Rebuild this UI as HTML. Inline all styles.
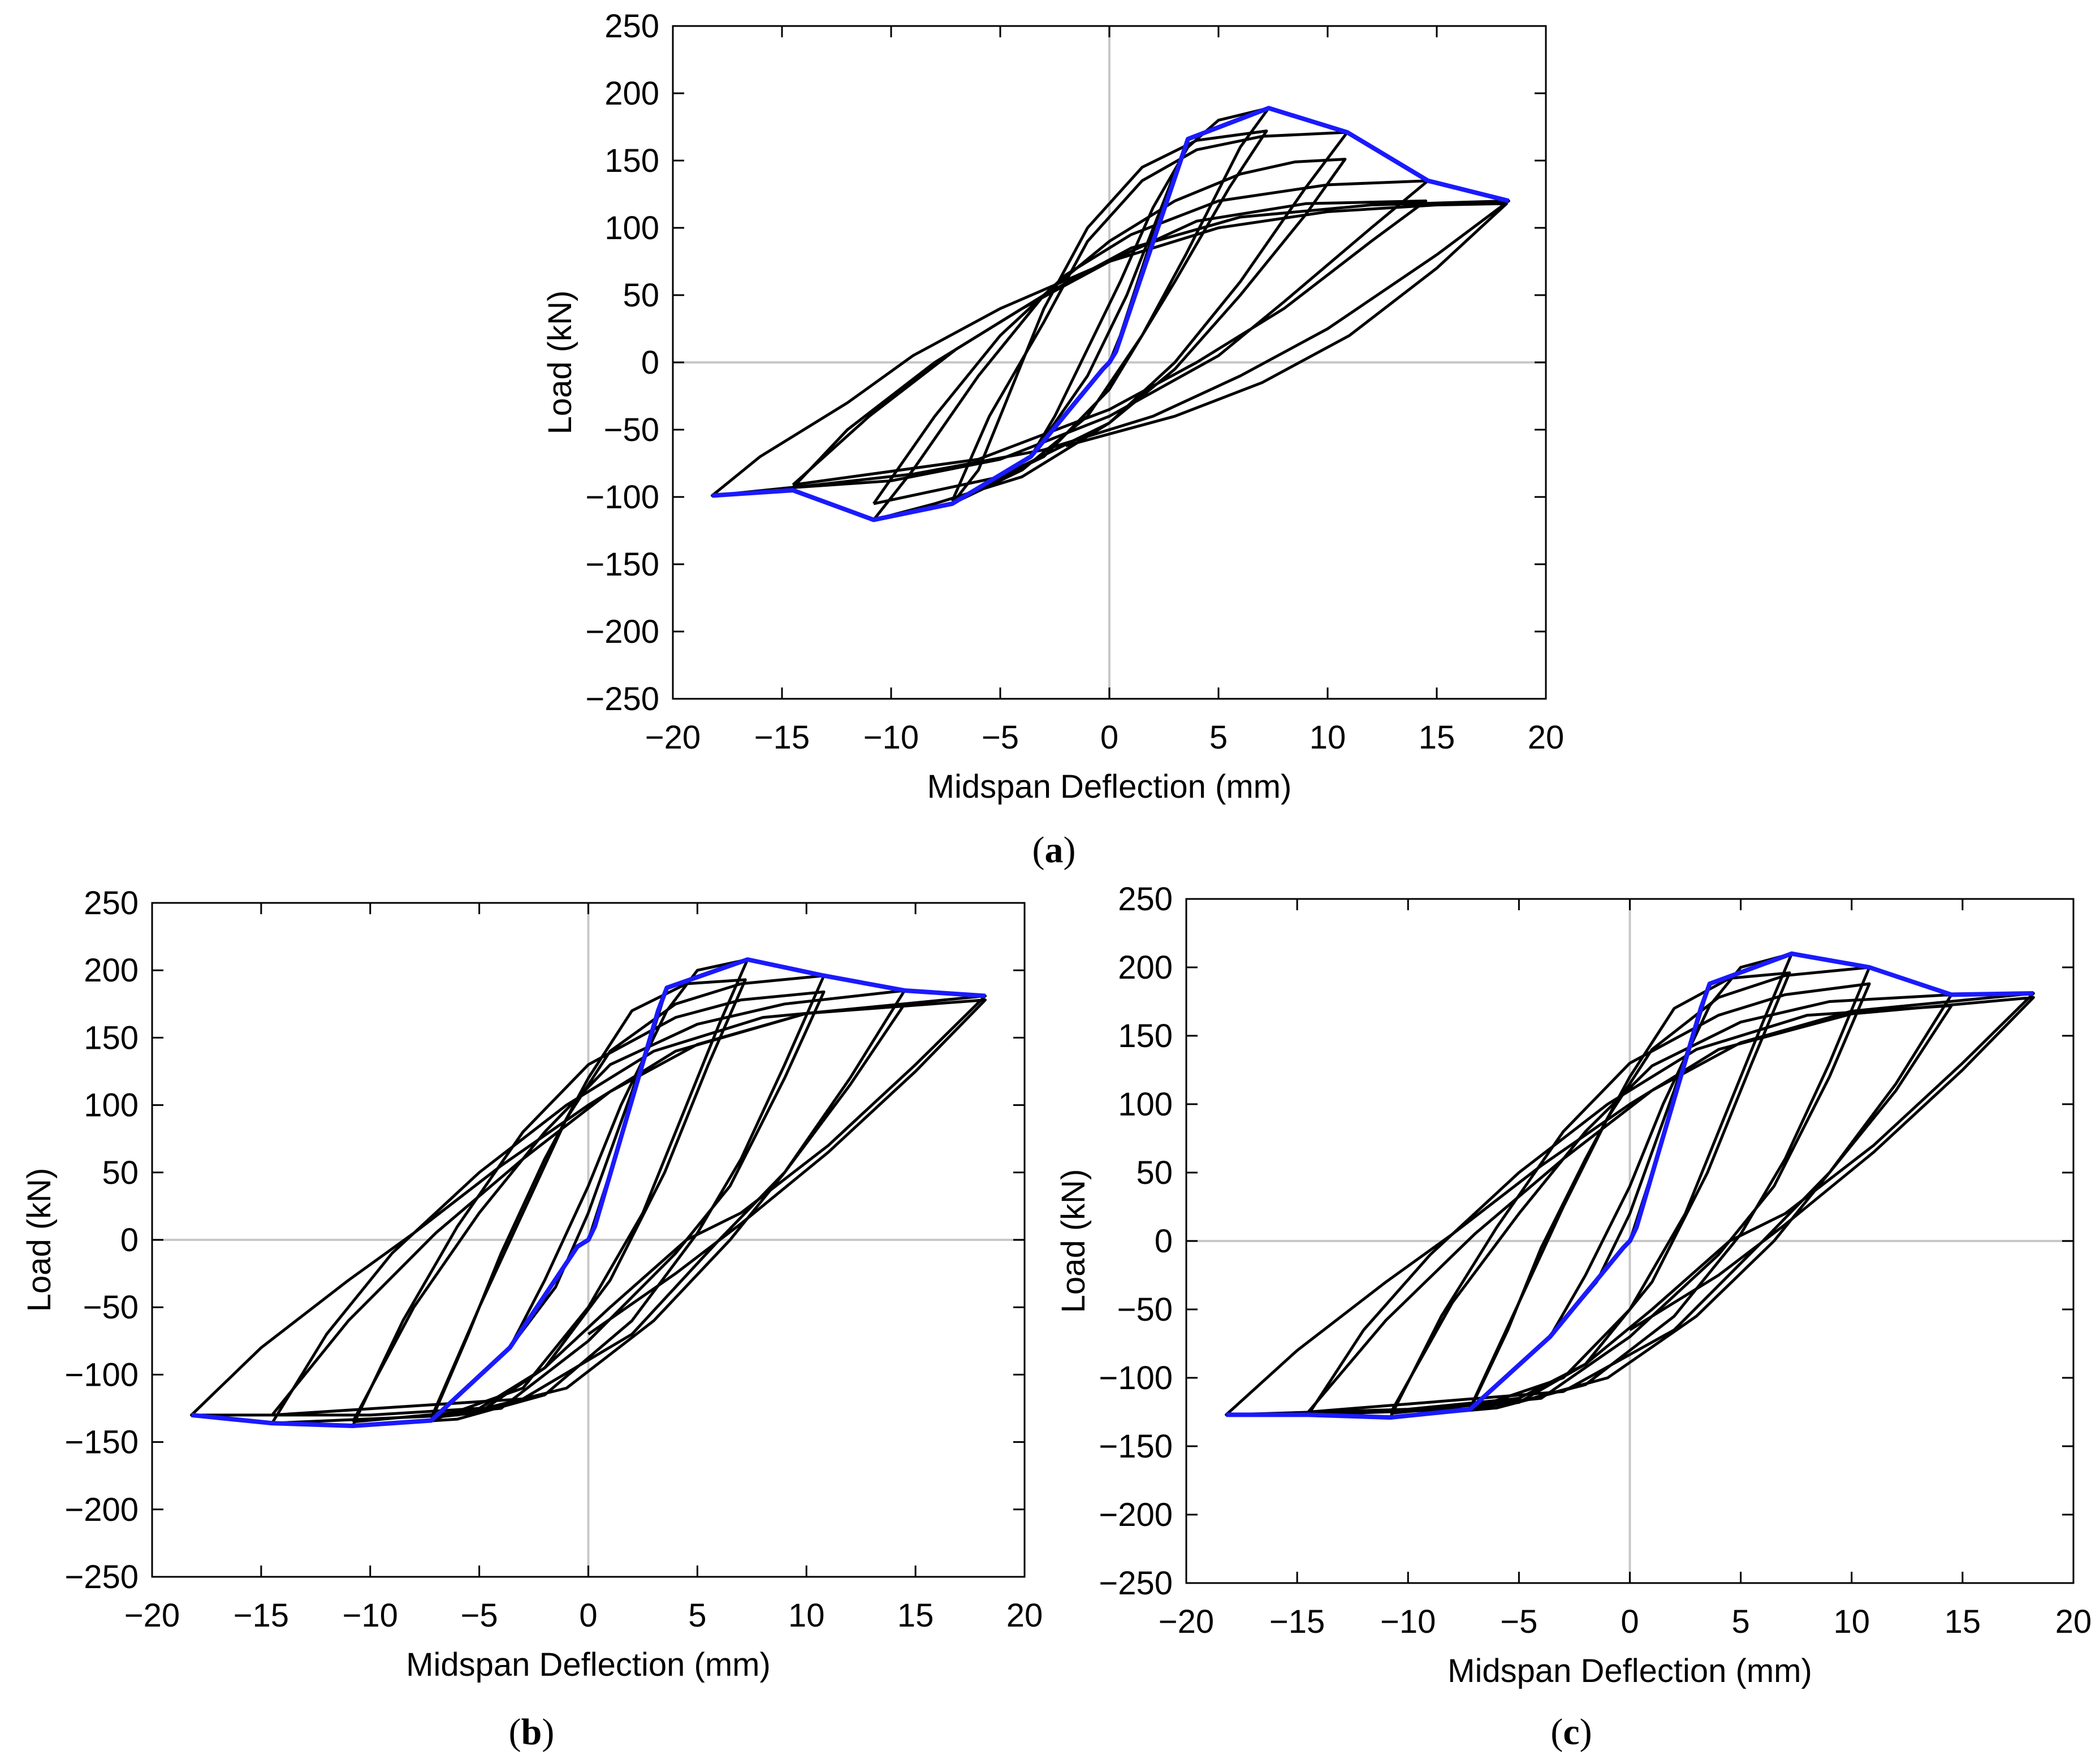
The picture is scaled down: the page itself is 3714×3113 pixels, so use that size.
<!DOCTYPE html>
<html><head><meta charset="utf-8"><style>
html,body{margin:0;padding:0;background:#fff;}
svg{display:block;}
text{font-family:"Liberation Sans",Arial,sans-serif;}
text.cap{font-family:"Liberation Serif","Times New Roman",serif;}
</style></head><body>
<svg id="fig" width="3714" height="3113" viewBox="0 0 3714 3113" xmlns="http://www.w3.org/2000/svg">
<text class="cap" x="1864" y="1525" font-size="66" text-anchor="middle">(<tspan font-weight="bold">a</tspan>)</text>
<text class="cap" x="940" y="3085" font-size="66" text-anchor="middle">(<tspan font-weight="bold">b</tspan>)</text>
<text class="cap" x="2779" y="3085" font-size="66" text-anchor="middle">(<tspan font-weight="bold">c</tspan>)</text>
</svg>
<script>
const xTicks=[-20,-15,-10,-5,0,5,10,15,20];
const yTicks=[-250,-200,-150,-100,-50,0,50,100,150,200,250];
const xTickLabels=["\u221220","\u221215","\u221210","\u22125","0","5","10","15","20"];
const yTickLabels=["\u2212250","\u2212200","\u2212150","\u2212100","\u221250","0","50","100","150","200","250"];

const loopsA=[
[[0,0],[0.5,20],[1.5,70],[2.5,120],[3.6,166],[2.5,120],[0.8,50],[-1,-10],[-2.5,-45],[-3.6,-70],[-2.5,-40],[-1,10],[0.5,60],[2,115],[3.6,160]],
[[3.6,160],[5,180],[7.3,189],[6,160],[3.5,80],[1.5,20],[-1,-40],[-4,-80],[-7.2,-105],[-6,-80],[-4.5,-20],[-3,40],[-1,100],[1.5,145],[4,165],[7.2,172],[5.5,130],[3,60],[0,-20],[-3,-70],[-7.2,-103]],
[[-7.2,-103],[-5.5,-40],[-3,30],[-1,90],[1.5,135],[4,158],[7,168],[10.9,171],[9,130],[6,60],[3,0],[0,-45],[-4,-85],[-8,-105],[-10.8,-117],[-9,-80],[-6,-10],[-3,50],[0,90],[3,120],[6,140],[8.5,149],[10.8,151],[9,110],[6,50],[3,-5],[0,-45],[-5,-85],[-10.8,-105]],
[[-10.8,-105],[-8,-40],[-5,20],[-2,65],[1,95],[5,120],[10,132],[14.6,135],[12,100],[8,45],[5,5],[0,-40],[-5,-72],[-10,-88],[-14.5,-93],[-12,-50],[-8,0],[-4,40],[0,75],[4,105],[9,118],[14.5,120],[12,90],[8,40],[4,0],[0,-35],[-6,-72],[-14.5,-91]],
[[-14.5,-91],[-11,-40],[-7,10],[-3,50],[1,85],[6,108],[12,117],[18.3,120],[15,80],[10,25],[6,-10],[2,-40],[-3,-65],[-9,-83],[-14,-92],[-18.2,-99],[-16,-70],[-12,-30],[-9,5],[-5,40],[0,75],[5,100],[10,112],[15,117],[18.2,118],[15,70],[11,20],[7,-15],[3,-40],[-2,-62]]
];
const envA=[[-18.2,-99],[-14.5,-95],[-10.8,-117],[-7.2,-105],[-3.6,-70],[-0.3,-5],[0,0],[0.3,8],[3.6,166],[7.3,189],[10.9,171],[14.6,135],[18.3,120]];

const loopsB=[
[[0,0],[1,50],[2.5,130],[3.6,187],[2,110],[0,20],[-1.5,-35],[-3.6,-80],[-2,-30],[0,40],[1.5,100],[3.6,170]],
[[3.6,170],[5,200],[7.3,208],[6,160],[4,80],[2.5,20],[0,-50],[-3,-110],[-7.2,-134],[-5.5,-70],[-4,-10],[-2,60],[0,120],[2,170],[4.5,190],[7.2,193],[5.5,130],[3.5,50],[1,-30],[-2,-95],[-5,-128],[-7.2,-132]],
[[-7.2,-132],[-5,-50],[-3,20],[-1,90],[1,140],[4,175],[7,190],[10.8,196],[9,130],[7,60],[5,5],[2,-60],[-2,-115],[-6,-133],[-10.8,-138],[-8.5,-60],[-6,10],[-3,80],[0,130],[4,165],[7,178],[10.8,184],[9,120],[6.5,40],[4,-10],[0,-75],[-4,-125],[-10.8,-135]],
[[-10.8,-135],[-8,-50],[-5,20],[-2,80],[1,130],[5,160],[9,175],[14.5,185],[12,120],[9,50],[6.5,0],[3,-60],[-1,-110],[-6,-130],[-14.5,-136],[-12,-70],[-9,-10],[-5,50],[-1,100],[3,140],[8,165],[14.5,175],[12,115],[9,50],[6,0],[2,-70],[-3,-118],[-14.5,-130]],
[[-14.5,-130],[-11,-60],[-7,5],[-3,60],[1,110],[5,145],[10,168],[18.2,181],[15,130],[11,70],[7,20],[4.5,0],[1,-50],[-2,-95],[-5,-125],[-10,-130],[-18.2,-130],[-15,-80],[-11,-30],[-8,5],[-4,55],[0,100],[4,140],[10,168],[18.2,178],[15,125],[11,65],[7,12],[4,-25],[0,-70]]
];
const envB=[[-18.2,-130],[-14.5,-136],[-10.8,-138],[-7.2,-134],[-3.6,-80],[-0.5,-5],[0,0],[0.3,10],[3.2,170],[3.6,187],[7.3,208],[10.8,196],[14.5,185],[18.2,181]];

const loopsC=[
[[0,0],[1,50],[2.5,130],[3.6,188],[2,110],[0,20],[-1.5,-30],[-3.6,-70],[-2,-25],[0,40],[1.5,100],[3.6,172]],
[[3.6,172],[5,200],[7.3,210],[6,160],[4,80],[2.5,20],[0,-50],[-3,-100],[-7.2,-123],[-5.5,-65],[-4,-5],[-2,60],[0,120],[2,170],[4.5,192],[7.2,196],[5.5,130],[3.5,50],[1,-30],[-2,-90],[-5,-118],[-7.2,-122]],
[[-7.2,-122],[-5,-45],[-3,25],[-1,90],[1,140],[4,178],[7,194],[10.8,200],[9,130],[7,60],[5,5],[2,-55],[-2,-105],[-6,-122],[-10.8,-129],[-8.5,-55],[-6,10],[-3,80],[0,130],[4,165],[7,180],[10.8,188],[9,120],[6.5,40],[4,-10],[0,-70],[-4,-115],[-10.8,-126]],
[[-10.8,-126],[-8,-45],[-5,20],[-2,80],[1,128],[5,160],[9,175],[14.5,180],[12,115],[9,50],[6.5,0],[3,-55],[-1,-100],[-6,-122],[-14.5,-127],[-12,-65],[-9,-10],[-5,50],[-1,100],[3,140],[8,165],[14.5,172],[12,110],[9,50],[6,0],[2,-65],[-3,-110],[-14.5,-125]],
[[-14.5,-125],[-11,-58],[-7,5],[-3,60],[1,110],[5,145],[10,168],[18.2,181],[15,130],[11,70],[7,20],[4.5,0],[1,-50],[-2,-90],[-5,-115],[-10,-123],[-18.2,-127],[-15,-80],[-11,-30],[-8,5],[-4,55],[0,100],[4,140],[10,166],[18.2,178],[15,125],[11,65],[7,12],[4,-25],[0,-65]]
];
const envC=[[-18.2,-127],[-14.5,-127],[-10.8,-129],[-7.2,-123],[-3.6,-70],[-0.3,-5],[0,0],[0.3,10],[3.2,170],[3.6,188],[7.3,210],[10.8,200],[14.5,180],[18.2,181]];

const NS="http://www.w3.org/2000/svg";
const svg=document.getElementById('fig');
function mk(tag,attrs,parent){const e=document.createElementNS(NS,tag);for(const k in attrs)e.setAttribute(k,attrs[k]);(parent||svg).appendChild(e);return e;}

function drawPanel(id,L,R,T,B,loops,env){
  const g=mk('g',{});
  
  
  const sx=v=>L+(v+20)/40*(R-L);
  const sy=v=>B-(v+250)/500*(B-T);
  const zx=mk('line',{x1:sx(0),x2:sx(0),y1:T,y2:B,stroke:'#c8c8c8','stroke-width':4},g);
  
  
  const zy=mk('line',{x1:L,x2:R,y1:sy(0),y2:sy(0),stroke:'#c8c8c8','stroke-width':4},g);
  
  
  loops.forEach((lp,i)=>{
    const p=mk('polyline',{points:lp.map(q=>sx(q[0])+','+sy(q[1])).join(' '),fill:'none',stroke:'#000','stroke-width':5,'stroke-linejoin':'round'},g);
    
    
  });
  const e=mk('polyline',{points:env.map(q=>sx(q[0])+','+sy(q[1])).join(' '),fill:'none',stroke:'#1a1aff','stroke-width':8,'stroke-linejoin':'round'},g);
  
  
  const fr=mk('rect',{x:L,y:T,width:R-L,height:B-T,fill:'none',stroke:'#000','stroke-width':3},g);
  
  
  const tl=20;
  xTicks.forEach((v,i)=>{
    mk('line',{x1:sx(v),x2:sx(v),y1:B,y2:B-tl,stroke:'#000','stroke-width':3},g);
    mk('line',{x1:sx(v),x2:sx(v),y1:T,y2:T+tl,stroke:'#000','stroke-width':3},g);
    const t=mk('text',{x:sx(v),y:B+88,'font-size':58,'text-anchor':'middle'},g);
    t.textContent=xTickLabels[i];
    
    
  });
  yTicks.forEach((v,i)=>{
    mk('line',{x1:L,x2:L+tl,y1:sy(v),y2:sy(v),stroke:'#000','stroke-width':3},g);
    mk('line',{x1:R,x2:R-tl,y1:sy(v),y2:sy(v),stroke:'#000','stroke-width':3},g);
    const t=mk('text',{x:L-24,y:sy(v)+20,'font-size':58,'text-anchor':'end'},g);
    t.textContent=yTickLabels[i];
    
    
  });
  const xt=mk('text',{x:(L+R)/2,y:B+175,'font-size':58,'text-anchor':'middle'},g);
  xt.textContent='Midspan Deflection (mm)';
  
  
  const cy=(T+B)/2, cx=L-180;
  const yt=mk('text',{x:cx,y:cy,'font-size':58,'text-anchor':'middle',transform:'rotate(-90 '+cx+' '+cy+')'},g);
  yt.textContent='Load (kN)';
  
  
}
drawPanel('a',1190,2734,46,1236,loopsA,envA);
drawPanel('b',269,1812,1597,2789,loopsB,envB);
drawPanel('c',2098,3667,1590,2800,loopsC,envC);
</script>
</body></html>
